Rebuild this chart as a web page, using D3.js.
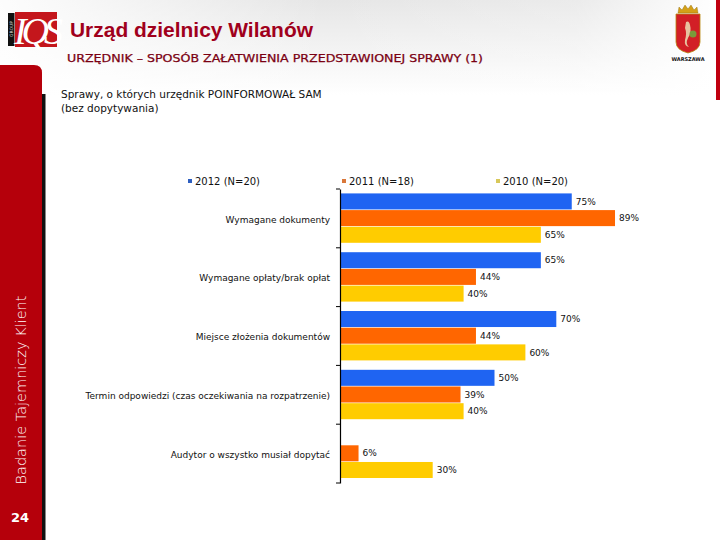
<!DOCTYPE html>
<html>
<head>
<meta charset="utf-8">
<script src="https://cdn.jsdelivr.net/npm/d3@7"></script>
<style>
  html, body { margin: 0; padding: 0; background: #fff; }
  svg { display: block; }
</style>
</head>
<body>
<script>
// ---- data ----
const categories = [
  "Wymagane dokumenty",
  "Wymagane opłaty/brak opłat",
  "Miejsce złożenia dokumentów",
  "Termin odpowiedzi (czas oczekiwania na rozpatrzenie)",
  "Audytor o wszystko musiał dopytać"
];
const seriesNames = ["2012 (N=20)", "2011 (N=18)", "2010 (N=20)"];
const values2012 = [75, 65, 70, 50, null];
const values2011 = [89, 44, 44, 39, 6];
const values2010 = [65, 40, 60, 40, 30];
const seriesValues = [values2012, values2011, values2010];
const seriesColors = ["#1F64F2", "#FF6600", "#FFCC00"];
const legendColors = ["#2E5FC0", "#D9773A", "#D8C85A"];

const W = 720, H = 540;
const svg = d3.select("body").append("svg").attr("width", W).attr("height", H);
const defs = svg.append("defs");

// header background gradient
const g1 = defs.append("linearGradient").attr("id", "hdr").attr("x1", 0).attr("y1", 0).attr("x2", 0).attr("y2", 1);
g1.append("stop").attr("offset", "0%").attr("stop-color", "#e6e6e6");
g1.append("stop").attr("offset", "100%").attr("stop-color", "#ffffff");
const g2 = defs.append("linearGradient").attr("id", "hdrH").attr("x1", 0).attr("y1", 0).attr("x2", 1).attr("y2", 0);
g2.append("stop").attr("offset", "0%").attr("stop-color", "#ffffff").attr("stop-opacity", 0.9);
g2.append("stop").attr("offset", "45%").attr("stop-color", "#ffffff").attr("stop-opacity", 0);
g2.append("stop").attr("offset", "80%").attr("stop-color", "#ffffff").attr("stop-opacity", 0.2);
g2.append("stop").attr("offset", "100%").attr("stop-color", "#ffffff").attr("stop-opacity", 1);
svg.append("rect").attr("x", 0).attr("y", 0).attr("width", W).attr("height", 95).attr("fill", "url(#hdr)");
svg.append("rect").attr("x", 0).attr("y", 0).attr("width", W).attr("height", 95).attr("fill", "url(#hdrH)");

// right red stripe
svg.append("rect").attr("x", 716).attr("y", 0).attr("width", 4).attr("height", 100).attr("fill", "#C00010");

// left sidebar with shadow
svg.append("rect").attr("x", 41).attr("y", 94).attr("width", 4.5).attr("height", H - 94).attr("fill", "#111");
svg.append("path")
  .attr("d", `M0,65 L34,65 Q42,65 42,73 L42,${H} L0,${H} Z`)
  .attr("fill", "#B5000B");
svg.append("text")
  .attr("transform", "translate(26,390) rotate(-90)")
  .attr("text-anchor", "middle")
  .attr("font-family", "DejaVu Sans, Verdana, sans-serif")
  .attr("font-size", 14.5).attr("font-weight", 300)
  .attr("fill", "#fff")
  .text("Badanie Tajemniczy Klient");
svg.append("text")
  .attr("x", 20).attr("y", 522).attr("text-anchor", "middle")
  .attr("font-family", "DejaVu Sans, Verdana, sans-serif")
  .attr("font-size", 13).attr("font-weight", "bold")
  .attr("fill", "#fff").text("24");

// IQS logo
svg.append("rect").attr("x", 8).attr("y", 13).attr("width", 6.5).attr("height", 33).attr("fill", "#111");
svg.append("text")
  .attr("transform", "translate(13,29) rotate(-90)")
  .attr("text-anchor", "middle")
  .attr("font-family", "DejaVu Sans, sans-serif")
  .attr("font-size", 4.5).attr("fill", "#ddd")
  .text("GROUP");
svg.append("rect").attr("x", 15).attr("y", 12).attr("width", 42).attr("height", 35).attr("fill", "#C4161C");
svg.append("text")
  .attr("x", 36).attr("y", 44).attr("text-anchor", "middle")
  .attr("font-family", "Liberation Serif, serif")
  .attr("font-style", "italic")
  .attr("font-size", 38).attr("fill", "#fff")
  .attr("letter-spacing", -5)
  .text("IQS");

// titles
svg.append("text")
  .attr("x", 70).attr("y", 37)
  .attr("font-family", "Liberation Sans, Arial, sans-serif")
  .attr("font-weight", "bold").attr("font-size", 20.5)
  .attr("fill", "#A0001C")
  .attr("textLength", 243).attr("lengthAdjust", "spacingAndGlyphs")
  .text("Urząd dzielnicy Wilanów");
svg.append("text")
  .attr("x", 67).attr("y", 62)
  .attr("font-family", "DejaVu Sans, Verdana, sans-serif")
  .attr("font-size", 10.5)
  .attr("fill", "#7A0012")
  .attr("stroke", "#7A0012").attr("stroke-width", 0.25)
  .attr("textLength", 416).attr("lengthAdjust", "spacingAndGlyphs")
  .text("URZĘDNIK – SPOSÓB ZAŁATWIENIA PRZEDSTAWIONEJ SPRAWY (1)");

// Warsaw crest (simplified)
const crest = svg.append("g");
crest.append("path")
  .attr("d", "M676,14 L700,14 L700,42 Q700,50 688,53 Q676,50 676,42 Z")
  .attr("fill", "#D21F26").attr("stroke", "#B8860B").attr("stroke-width", 0.8);
crest.append("path")
  .attr("d", "M678,13 L679,7 L682,10 L685,5 L688,9 L691,5 L694,10 L697,7 L698,13 Z")
  .attr("fill", "#D4A017").attr("stroke", "#8a6a10").attr("stroke-width", 0.4);
crest.append("path")
  .attr("d", "M686,22 Q689,20 690,25 Q692,32 688,38 Q685,44 689,47 Q684,46 685,40 Q687,33 685,28 Z")
  .attr("fill", "#E8C3A0");
crest.append("circle").attr("cx", 693).attr("cy", 34).attr("r", 3.5).attr("fill", "#7A9A3A");
crest.append("text")
  .attr("x", 688).attr("y", 61).attr("text-anchor", "middle")
  .attr("font-family", "DejaVu Sans, sans-serif").attr("font-weight", "bold")
  .attr("font-size", 5).attr("fill", "#111").text("WARSZAWA");

// question text
const qText = svg.append("text")
  .attr("font-family", "DejaVu Sans, Verdana, sans-serif")
  .attr("font-size", 10.5).attr("fill", "#111");
qText.append("tspan").attr("x", 61).attr("y", 98).text("Sprawy, o których urzędnik POINFORMOWAŁ SAM");
qText.append("tspan").attr("x", 61).attr("y", 112).text("(bez dopytywania)");

// ---- chart ----
const x = d3.scaleLinear().domain([0, 100]).range([340, 649]);
const y = d3.scaleBand().domain(categories).range([189, 483]).paddingInner(0).paddingOuter(0);
const ySeries = d3.scaleBand().domain(d3.range(seriesNames.length))
  .range([y.bandwidth() * 0.075, y.bandwidth() * 0.915]).paddingInner(0.04);

const chart = svg.append("g");
seriesValues.forEach((vals, si) => {
  const rows = categories.map((c, i) => ({ c, v: vals[i] })).filter(d => d.v != null);
  chart.selectAll(null).data(rows).enter().append("rect")
    .attr("x", x(0))
    .attr("y", d => y(d.c) + ySeries(si))
    .attr("width", d => x(d.v) - x(0))
    .attr("height", ySeries.bandwidth())
    .attr("fill", seriesColors[si]);
  chart.selectAll(null).data(rows).enter().append("text")
    .attr("x", d => x(d.v) + 4)
    .attr("y", d => y(d.c) + ySeries(si) + ySeries.bandwidth() / 2)
    .attr("dy", "0.35em")
    .attr("font-family", "DejaVu Sans, Verdana, sans-serif")
    .attr("font-size", 9).attr("fill", "#111")
    .text(d => d.v + "%");
});

// y axis
const yAxis = d3.axisLeft(y).tickSize(0).tickFormat("");
const axG = svg.append("g").attr("transform", `translate(${x(0)},0)`).call(yAxis);
axG.select(".domain").attr("stroke", "#000").attr("stroke-width", 1.2);
const boundaries = categories.map(c => y(c)).concat([y.range()[1]]);
svg.selectAll(null).data(boundaries).enter().append("line")
  .attr("x1", x(0) - 4).attr("x2", x(0))
  .attr("y1", d => d).attr("y2", d => d)
  .attr("stroke", "#000").attr("stroke-width", 1);

// category labels
svg.selectAll(null).data(categories).enter().append("text")
  .attr("x", 330)
  .attr("y", d => y(d) + y.bandwidth() / 2 + 1)
  .attr("dy", "0.35em")
  .attr("text-anchor", "end")
  .attr("font-family", "DejaVu Sans, Verdana, sans-serif")
  .attr("font-size", 9).attr("fill", "#111")
  .text(d => d);

// legend
const legendX = [188, 342, 496];
const lg = svg.append("g");
seriesNames.forEach((n, i) => {
  lg.append("rect").attr("x", legendX[i]).attr("y", 179).attr("width", 4).attr("height", 4).attr("fill", legendColors[i]);
  lg.append("text").attr("x", legendX[i] + 7).attr("y", 181).attr("dy", "0.35em")
    .attr("font-family", "DejaVu Sans, Verdana, sans-serif")
    .attr("font-size", 10).attr("fill", "#111").text(n);
});
</script>
</body>
</html>
